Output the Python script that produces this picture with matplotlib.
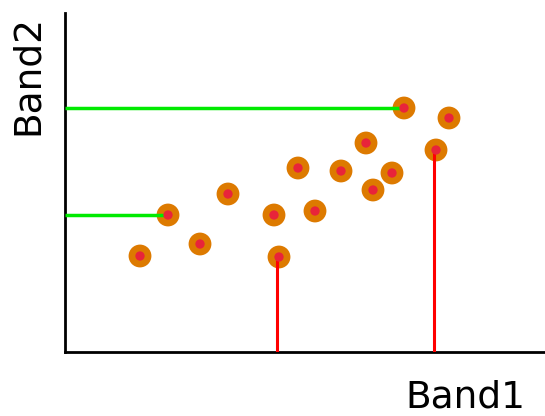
import matplotlib
matplotlib.use("Agg")
import matplotlib.pyplot as plt

band1 = [75, 103, 135, 163, 209, 214, 233, 250, 276, 301, 308, 327, 339, 371, 384]
band2 = [96, 137, 108, 158, 137, 95, 184, 141, 181, 209, 162, 179, 244, 202, 234]
green_idx = [1, 12]
red_idx = [5, 13]

fig = plt.figure(figsize=(5.45, 4.16), dpi=100)
ax = fig.add_axes([65/545, 64/416, 480/545, 339/416])
ax.set_xlim(0, 480)
ax.set_ylim(0, 339)
for s in ["top", "right"]:
    ax.spines[s].set_visible(False)
for s in ["left", "bottom"]:
    ax.spines[s].set_linewidth(2)
ax.set_xticks([])
ax.set_yticks([])

ax.scatter(band1, band2, s=270, color="#dd7a00", edgecolors="none", zorder=2)
for i in green_idx:
    ax.plot([0, band1[i]], [band2[i], band2[i]], color="#00ea00", lw=2.5, zorder=3, solid_capstyle="butt")
for i in red_idx:
    ax.plot([band1[i] - 2, band1[i] - 2], [0, band2[i]], color="#ff0000", lw=2.2, zorder=3, solid_capstyle="butt")
ax.scatter(band1, band2, s=45, color="#e8243a", edgecolors="none", zorder=4)

fig.text(465/545, 1 - 408/416, "Band1", fontsize=27, ha="center", va="baseline")
fig.text(28/545, 1 - 75/416, "Band2", fontsize=27, ha="center", va="center", rotation=90)

fig.savefig("out.png", dpi=100)
